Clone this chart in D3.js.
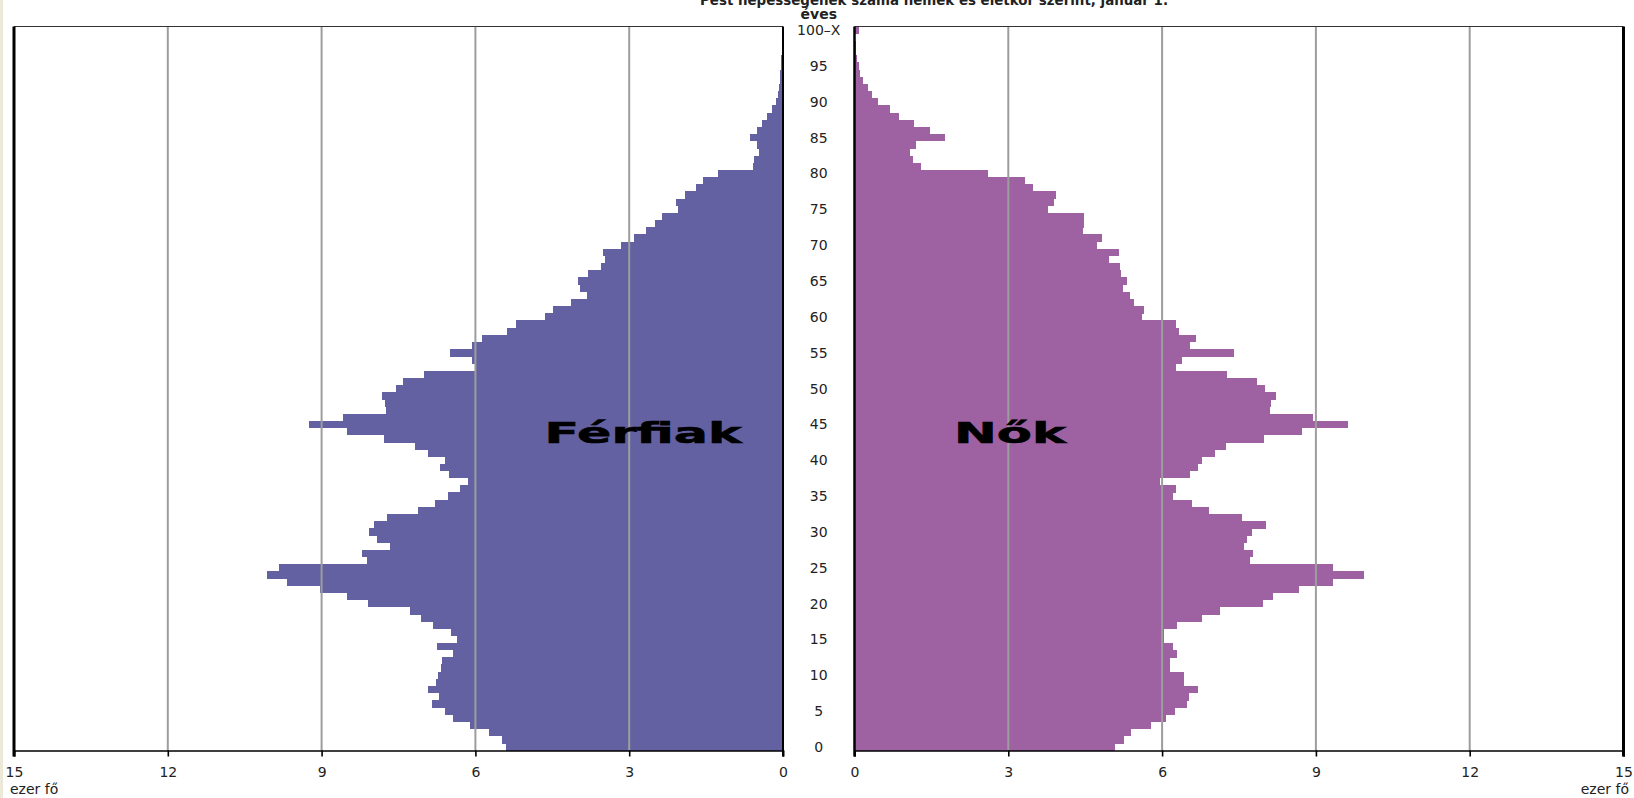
<!DOCTYPE html>
<html><head><meta charset="utf-8">
<script src="https://cdn.jsdelivr.net/npm/d3@7/dist/d3.min.js"></script>
<style>
html,body{margin:0;padding:0;background:#fff;overflow:hidden}
text{font-family:"DejaVu Sans",Verdana,sans-serif}
</style></head>
<body>
<script>
// Ages 0..100 (100 = "100–X")
const ages = d3.range(0, 101);
// Men (thousand persons), index = age
const men = [5.41,5.49,5.73,6.11,6.44,6.59,6.85,6.71,6.93,6.76,
6.72,6.67,6.65,6.43,6.74,6.36,6.47,6.82,7.07,7.28,
8.09,8.50,9.04,9.68,10.06,9.84,8.11,8.21,7.67,7.91,
8.08,7.98,7.73,7.11,6.79,6.54,6.30,6.14,6.52,6.69,
6.59,6.93,7.18,7.79,8.51,9.25,8.58,7.75,7.77,7.82,
7.54,7.41,7.01,6.01,6.07,6.50,6.07,5.88,5.39,5.21,
4.65,4.49,4.14,3.82,3.96,3.99,3.81,3.55,3.47,3.51,
3.16,2.90,2.67,2.49,2.36,2.05,2.09,1.91,1.70,1.57,
1.26,0.58,0.56,0.47,0.50,0.64,0.50,0.40,0.31,0.21,
0.14,0.09,0.07,0.06,0.05,0.04,0.03,0.02,0.02,0.01,
0.02];
// Women (thousand persons), index = age
const women = [5.08,5.25,5.39,5.79,6.07,6.26,6.48,6.52,6.70,6.42,
6.42,6.16,6.16,6.30,6.21,6.03,6.03,6.30,6.78,7.13,
7.97,8.16,8.68,9.33,9.93,9.33,7.71,7.78,7.60,7.65,
7.76,8.02,7.56,6.92,6.59,6.21,6.27,5.95,6.54,6.71,
6.77,7.03,7.24,7.98,8.72,9.63,8.94,8.11,8.13,8.23,
8.00,7.86,7.27,6.28,6.38,7.41,6.54,6.66,6.32,6.27,
5.61,5.65,5.46,5.38,5.23,5.31,5.20,5.17,4.97,5.15,
4.73,4.83,4.45,4.48,4.48,3.77,3.89,3.93,3.48,3.33,
2.61,1.29,1.14,1.08,1.20,1.77,1.47,1.16,0.86,0.69,
0.45,0.35,0.27,0.17,0.11,0.08,0.05,0.03,0.02,0.01,
0.09];
const ageTickValues = [0,5,10,15,20,25,30,35,40,45,50,55,60,65,70,75,80,85,90,95,100];
const ageTickLabels = ["0","5","10","15","20","25","30","35","40","45","50","55","60","65","70","75","80","85","90","95","100–X"];
const xTickValues = [0,3,6,9,12,15];
const xTickLabels = ["0","3","6","9","12","15"];
const title = "Pest népességének száma nemek és életkor szerint, január 1.";
const unitLabel = "ezer fő";
const ageUnit = "éves";
const menLabel = "Férfiak";
const womenLabel = "Nők";

const W = 1634, H = 798;
const plotTop = 26.5, plotBottom = 750.5;
const svg = d3.select("body").append("svg").attr("width", W).attr("height", H);

svg.append("rect").attr("x",0).attr("y",0).attr("width",3).attr("height",H).attr("fill","#ece9d8");

const y = d3.scaleBand().domain(ages.slice().reverse()).range([plotTop, plotBottom]).padding(0);
const xL = d3.scaleLinear().domain([0, 15]).range([783, 14]);
const xR = d3.scaleLinear().domain([0, 15]).range([854.5, 1623.5]);
const bw = y.bandwidth();

const MEN_C = "#6361a1", WOMEN_C = "#9e61a2", GRID_C = "#9d9d9d";

// bars
svg.append("g").attr("shape-rendering","crispEdges").selectAll("rect").data(ages).join("rect")
  .attr("x", a => xL(men[a])).attr("width", a => xL(0) - xL(men[a]))
  .attr("y", a => y(a)).attr("height", bw + 0.3).attr("fill", MEN_C);
svg.append("g").attr("shape-rendering","crispEdges").selectAll("rect").data(ages).join("rect")
  .attr("x", xR(0)).attr("width", a => xR(women[a]) - xR(0))
  .attr("y", a => y(a)).attr("height", bw + 0.3).attr("fill", WOMEN_C);

// grid on top of bars
const gridVals = xTickValues.filter(v => v > 0 && v < 15);
[xL, xR].forEach(sc => {
  svg.append("g").selectAll("line").data(gridVals).join("line")
    .attr("x1", d => sc(d)).attr("x2", d => sc(d))
    .attr("y1", plotTop).attr("y2", plotBottom)
    .attr("stroke", GRID_C).attr("stroke-width", 2);
});

// top border
svg.append("line").attr("x1", xL(15)).attr("x2", xL(0)).attr("y1", plotTop).attr("y2", plotTop).attr("stroke","#333").attr("stroke-width",1.2);
svg.append("line").attr("x1", xR(0)).attr("x2", xR(15)).attr("y1", plotTop).attr("y2", plotTop).attr("stroke","#333").attr("stroke-width",1.2);

// bottom axes
function styleAxis(g){
  g.selectAll("path.domain").attr("stroke","#000").attr("stroke-width",1.6);
  g.selectAll(".tick line").attr("stroke","#000").attr("stroke-width",1.6);
  g.selectAll(".tick text").attr("font-size","14px").attr("fill","#222")
    .attr("font-family","'DejaVu Sans',Verdana,sans-serif");
}
const fmt = d => xTickLabels[xTickValues.indexOf(d)];
const axL = d3.axisBottom(xL).tickValues(xTickValues).tickFormat(fmt).tickSize(6).tickSizeOuter(6).tickPadding(11);
const axR = d3.axisBottom(xR).tickValues(xTickValues).tickFormat(fmt).tickSize(6).tickSizeOuter(6).tickPadding(11);
svg.append("g").attr("transform", `translate(0,${plotBottom})`).call(axL).call(styleAxis);
svg.append("g").attr("transform", `translate(0,${plotBottom})`).call(axR).call(styleAxis);

// vertical borders
svg.append("line").attr("x1", xL(15)).attr("x2", xL(15)).attr("y1", plotTop).attr("y2", plotBottom + 6).attr("stroke","#000").attr("stroke-width",3);
svg.append("line").attr("x1", xL(0)).attr("x2", xL(0)).attr("y1", plotTop).attr("y2", plotBottom + 6).attr("stroke","#000").attr("stroke-width",2);
svg.append("line").attr("x1", xR(0)).attr("x2", xR(0)).attr("y1", plotTop).attr("y2", plotBottom + 6).attr("stroke","#000").attr("stroke-width",2.5);
svg.append("line").attr("x1", xR(15)).attr("x2", xR(15)).attr("y1", plotTop).attr("y2", plotBottom + 6).attr("stroke","#000").attr("stroke-width",3);

// age labels
const midX = (xL(0) + xR(0)) / 2;
svg.append("g").selectAll("text").data(ageTickValues).join("text")
  .attr("x", midX).attr("y", a => y(a) + bw/2).attr("dy","0.36em")
  .attr("text-anchor","middle").attr("font-size","14px").attr("fill","#222")
  .text((a,i) => ageTickLabels[i]);

svg.append("text").attr("x", midX).attr("y", 18.5).attr("text-anchor","middle")
  .attr("font-size","14px").attr("font-weight","bold").attr("fill","#222").text(ageUnit);

svg.append("text").attr("x", 700).attr("y", 4.5).attr("font-size","14px").attr("font-weight","bold")
  .attr("fill","#222").attr("textLength",468).attr("lengthAdjust","spacingAndGlyphs").text(title);

// unit labels
svg.append("text").attr("x", 10).attr("y", 794).attr("font-size","14px").attr("fill","#222").text(unitLabel);
svg.append("text").attr("x", 1629).attr("y", 794).attr("text-anchor","end").attr("font-size","14px").attr("fill","#222").text(unitLabel);

// series labels
svg.append("text").attr("x", 544.6).attr("y", 443.3)
  .attr("font-family","'Liberation Sans',Arial,sans-serif").attr("font-weight","bold").attr("font-size","29px")
  .attr("fill","#000").attr("stroke","#000").attr("stroke-width",0.6)
  .attr("textLength",197).attr("lengthAdjust","spacingAndGlyphs").text(menLabel);
svg.append("text").attr("x", 954).attr("y", 443.3)
  .attr("font-family","'Liberation Sans',Arial,sans-serif").attr("font-weight","bold").attr("font-size","29px")
  .attr("fill","#000").attr("stroke","#000").attr("stroke-width",0.6)
  .attr("textLength",112).attr("lengthAdjust","spacingAndGlyphs").text(womenLabel);
</script>
</body></html>
